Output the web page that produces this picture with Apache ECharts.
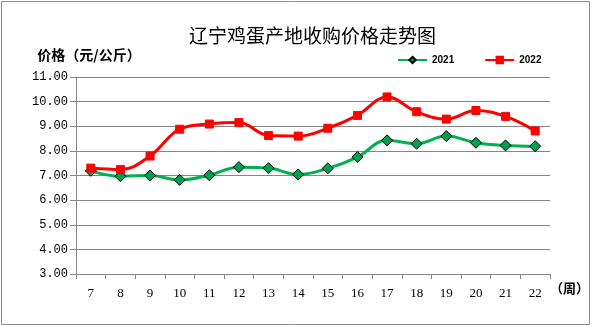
<!DOCTYPE html>
<html><head><meta charset="utf-8">
<script src="https://cdn.jsdelivr.net/npm/echarts@6/dist/echarts.min.js"></script>
<style>html,body{margin:0;padding:0;background:#fff}#c{width:592px;height:326px}</style>
</head><body><div id="c"></div>
<script>
var weeks = ['7','8','9','10','11','12','13','14','15','16','17','18','19','20','21','22'];
var y2021 = [7.19,6.97,7.00,6.82,7.01,7.34,7.30,7.04,7.29,7.75,8.43,8.29,8.60,8.33,8.22,8.19];
var y2022 = [7.30,7.24,7.79,8.88,9.09,9.15,8.62,8.60,8.92,9.44,10.19,9.59,9.29,9.64,9.40,8.81];
var yTicks = [3,4,5,6,7,8,9,10,11];

var chart = echarts.init(document.getElementById('c'));
var axisGray = '#868686';
chart.setOption({
  animation: false,
  graphic: [{type:'rect', shape:{x:1.5,y:1.5,width:588,height:323}, style:{fill:'none', stroke:'#8c8c8c', lineWidth:1}, silent:true}],
  title: {
    text: '辽宁鸡蛋产地收购价格走势图',
    left: 184, top: 21,
    textStyle: {fontFamily:'Noto Sans CJK SC', fontSize:19, fontWeight:'normal', color:'#000'}
  },
  legend: {
    left: 392, top: 50,
    itemWidth: 29, itemHeight: 8, itemGap: 30,
    textStyle: {fontFamily:'Liberation Sans', fontSize:10, fontWeight:'bold', color:'#000'},
    data: ['2021','2022']
  },
  grid: {left:76, right:40, top:77, bottom:52},
  xAxis: {
    type:'category', data: weeks, boundaryGap: true,
    name: '（周）', nameLocation:'end', nameGap: 0,
    nameTextStyle: {fontFamily:'Noto Sans CJK SC', fontSize:13, fontWeight:'bold', color:'#000', verticalAlign:'top', padding:[8,0,0,0]},
    axisLine: {lineStyle:{color:axisGray, width:1}},
    axisTick: {show:true, length:5, lineStyle:{color:axisGray}},
    axisLabel: {margin:13, fontFamily:'Liberation Serif', fontSize:13, color:'#000'}
  },
  yAxis: {
    type:'value', min: yTicks[0], max: yTicks[yTicks.length-1], interval: 1,
    name: '价格（元/公斤）', nameLocation:'end', nameGap: 15,
    nameTextStyle: {fontFamily:'Noto Sans CJK SC', fontSize:14, fontWeight:'bold', color:'#000', align:'center', padding:[0,0,0,26]},
    axisLine: {show:true, lineStyle:{color:axisGray, width:1}},
    axisTick: {show:true, length:6, lineStyle:{color:axisGray}},
    splitLine: {lineStyle:{color:axisGray, width:1}},
    axisLabel: {margin:8, fontFamily:'Liberation Mono', fontSize:12, color:'#000', formatter:function(v){return v.toFixed(2);}}
  },
  series: [
    {name:'2021', type:'line', data:y2021, smooth:0.4, symbol:'diamond', symbolSize:11,
     lineStyle:{color:'#00B050', width:3}, itemStyle:{color:'#00A050', borderColor:'#000', borderWidth:1}, z:2},
    {name:'2022', type:'line', data:y2022, smooth:0.4, symbol:'rect', symbolSize:8,
     lineStyle:{color:'#FF0000', width:3}, itemStyle:{color:'#FF0000', borderColor:'#FF0000', borderWidth:1}, z:3}
  ]
});
</script></body></html>
